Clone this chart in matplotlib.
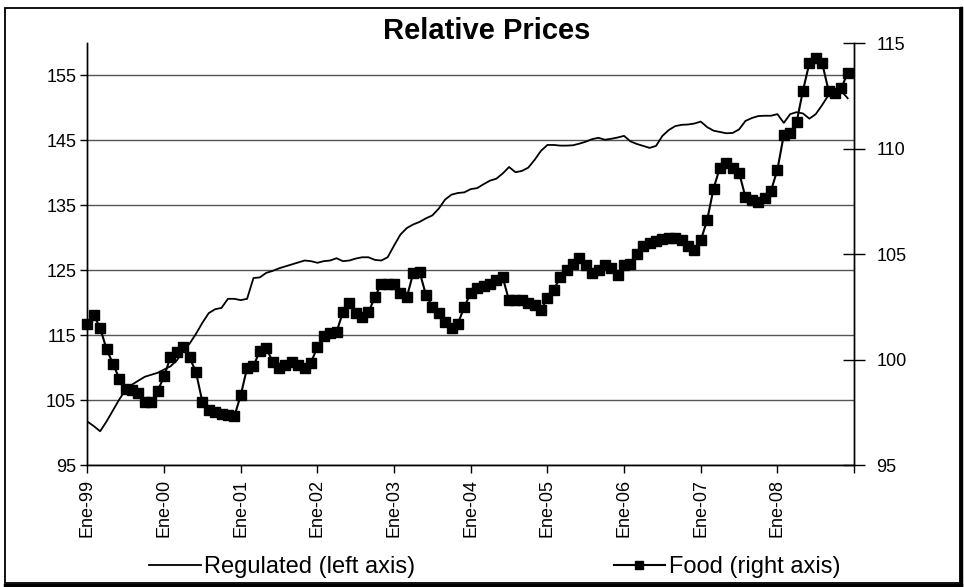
import matplotlib
matplotlib.use("Agg")
import matplotlib.pyplot as plt
from matplotlib.lines import Line2D
import numpy as np

plt.rcParams['font.family'] = ['Liberation Sans', 'DejaVu Sans']

# monthly data, Jan 1999 - Dec 2008
regulated = [
    101.7, 101.0, 100.2, 101.7, 103.4, 105.1, 106.6, 107.4, 108.0, 108.6, 108.9, 109.2,
    109.7, 110.2, 111.1, 112.6, 113.7, 115.2, 116.9, 118.4, 119.0, 119.2, 120.6, 120.6,
    120.4, 120.6, 123.8, 123.9, 124.6, 124.9, 125.3, 125.6, 125.9, 126.2, 126.5, 126.4,
    126.15, 126.4, 126.5, 126.85, 126.4, 126.5, 126.8, 127.0, 127.0, 126.6, 126.5, 127.0,
    128.8, 130.5, 131.5, 132.05, 132.45, 133.0, 133.45, 134.5, 135.9, 136.65, 136.9, 137.0,
    137.5, 137.65, 138.25, 138.8, 139.1, 139.9, 140.9, 140.1, 140.3, 140.8, 142.0, 143.4,
    144.3, 144.3, 144.2, 144.2, 144.25, 144.5, 144.8, 145.2, 145.4, 145.1, 145.25, 145.45,
    145.7, 144.85, 144.45, 144.15, 143.85, 144.15, 145.7, 146.6, 147.2, 147.4, 147.45, 147.6,
    147.9, 147.05, 146.5, 146.3, 146.1, 146.15, 146.7, 148.0, 148.45, 148.75, 148.8, 148.8,
    149.05, 147.7, 149.05, 149.35, 149.15, 148.35, 149.05, 150.45, 152.0, 152.6, 152.6, 151.5,
]
food = [
    101.7, 102.1, 101.5, 100.5, 99.8, 99.1, 98.6, 98.55, 98.4, 98.0, 98.0, 98.5,
    99.2, 100.1, 100.35, 100.6, 100.1, 99.4, 98.0, 97.6, 97.5, 97.4, 97.35, 97.3,
    98.3, 99.6, 99.7, 100.4, 100.55, 99.9, 99.6, 99.75, 99.9, 99.75, 99.6, 99.85,
    100.6, 101.1, 101.25, 101.3, 102.25, 102.7, 102.2, 102.0, 102.25, 102.95, 103.6, 103.6,
    103.6, 103.15, 102.95, 104.1, 104.15, 103.05, 102.5, 102.2, 101.8, 101.5, 101.7, 102.5,
    103.15, 103.4, 103.5, 103.6, 103.75, 103.9, 102.8, 102.8, 102.8, 102.7, 102.6, 102.35,
    102.9, 103.3, 103.9, 104.25, 104.55, 104.8, 104.5, 104.1, 104.25, 104.5, 104.35, 104.0,
    104.5, 104.55, 105.0, 105.4, 105.5, 105.6, 105.7, 105.75, 105.75, 105.65, 105.4, 105.2,
    105.65, 106.6, 108.1, 109.1, 109.3, 109.1, 108.85, 107.7, 107.55, 107.45, 107.65, 108.0,
    109.0, 110.65, 110.75, 111.25, 112.75, 114.05, 114.3, 114.05, 112.75, 112.65, 112.85, 113.6,
]
year_labels = ["Ene-99", "Ene-00", "Ene-01", "Ene-02", "Ene-03",
               "Ene-04", "Ene-05", "Ene-06", "Ene-07", "Ene-08"]
left_ticks = [95, 105, 115, 125, 135, 145, 155]
right_ticks = [95, 100, 105, 110, 115]

x = np.arange(len(regulated))

fig = plt.figure(figsize=(9.64, 5.87), dpi=100)
ax = fig.add_axes([0.0906, 0.2078, 0.7954, 0.7189])
ax2 = ax.twinx()

ax.plot(x, regulated, color="black", lw=1.3, zorder=3)
ax2.plot(x, food, color="black", lw=1.5, marker="s", markersize=6.8,
         markeredgecolor="black", clip_on=False, zorder=4)

ax.set_xlim(0, 120)
ax.set_ylim(95, 160)
ax2.set_ylim(95, 115)

ax.set_yticks(left_ticks)
ax2.set_yticks(right_ticks)
ax.set_xticks(list(range(0, 121, 12)))
ax.set_xticklabels(year_labels + [""], rotation=90)

ax.grid(axis="y", color="#555555", lw=1.0)
ax.set_axisbelow(True)

for a in (ax, ax2):
    a.spines["top"].set_visible(False)
    for s in a.spines.values():
        s.set_color("black")
        s.set_linewidth(1.0)

ax.tick_params(axis="y", direction="out", length=5, width=1, pad=3, labelsize=13)
ax.tick_params(axis="x", direction="out", length=6, width=1, pad=4, labelsize=13)
ax2.tick_params(axis="y", direction="inout", length=16, width=1, pad=8, labelsize=13)

fig.text(0.505, 0.947, "Relative Prices", ha="center", va="center",
         fontsize=21, fontweight="bold")

handles = [Line2D([], [], color="black", lw=1.3),
           Line2D([], [], color="black", lw=1.5, marker="s", markersize=6)]
fig.legend(handles, ["Regulated (left axis)", "Food (right axis)"],
           loc="center", bbox_to_anchor=(0.513, 0.034), ncol=2, frameon=False,
           fontsize=17, handlelength=2.2, handletextpad=0.15, columnspacing=8.4)

# outer frame
fig.add_artist(plt.Rectangle((0.005, 0.006), 0.991, 0.981, transform=fig.transFigure,
                             fill=False, lw=1.3, edgecolor="black"))
fig.add_artist(Line2D([0.005, 0.997], [0.004, 0.004], transform=fig.transFigure,
                      color="black", lw=2.5))
fig.add_artist(Line2D([0.997, 0.997], [0.004, 0.987], transform=fig.transFigure,
                      color="black", lw=2.5))

fig.savefig("out.png", dpi=100)
